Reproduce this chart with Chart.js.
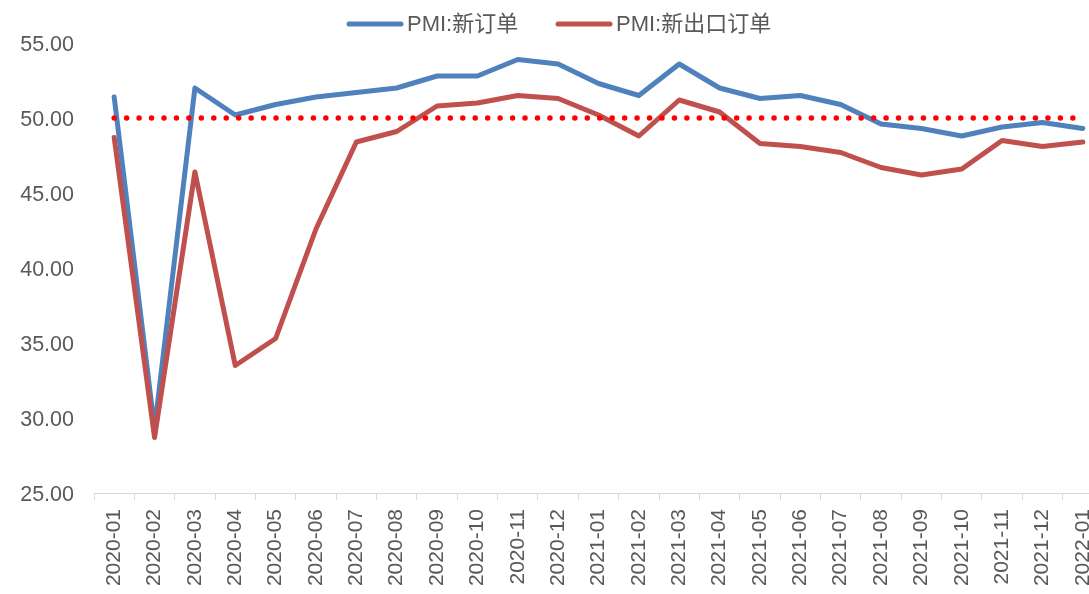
<!DOCTYPE html>
<html>
<head>
<meta charset="utf-8">
<script src="https://cdn.jsdelivr.net/npm/chart.js@4.4.1/dist/chart.umd.min.js"></script>
<style>
  html, body { margin: 0; padding: 0; background: #fff; overflow: hidden; }
  #caja { width: 1103px; height: 594px; }
</style>
</head>
<body>
<div id="caja"><canvas id="miGrafica" width="1103" height="594"></canvas></div>
<script>
// meses del eje X
const meses = ["2020-01", "2020-02", "2020-03", "2020-04", "2020-05", "2020-06", "2020-07",
    "2020-08", "2020-09", "2020-10", "2020-11", "2020-12", "2021-01", "2021-02", "2021-03",
    "2021-04", "2021-05", "2021-06", "2021-07", "2021-08", "2021-09", "2021-10", "2021-11",
    "2021-12", "2022-01"];

// PMI:新订单
const nuevosPedidos = [51.4, 29.3, 52.0, 50.2, 50.9, 51.4, 51.7, 52.0, 52.8, 52.8, 53.9, 53.6,
    52.3, 51.5, 53.6, 52.0, 51.3, 51.5, 50.9, 49.6, 49.3, 48.8, 49.4, 49.7, 49.3];

// PMI:新出口订单
const pedidosExport = [48.7, 28.7, 46.4, 33.5, 35.3, 42.6, 48.4, 49.1, 50.8, 51.0, 51.5, 51.3,
    50.2, 48.8, 51.2, 50.4, 48.3, 48.1, 47.7, 46.7, 46.2, 46.6, 48.5, 48.1, 48.4];

// linea de referencia (50)
const lineaBase = [50, 50, 50, 50, 50, 50, 50, 50, 50, 50, 50, 50, 50, 50, 50, 50, 50, 50,
    50, 50, 50, 50, 50, 50, 50];

// ticks del eje Y
const ejeY = { min: 25, max: 55, paso: 5 };

const fuente = '"Liberation Sans", "Noto Sans CJK SC", sans-serif';
const gris = "#595959";

// leyenda dibujada a mano para controlar el espaciado
const leyenda = {
    id: "leyenda",
    afterDraw(chart) {
        const ctx = chart.ctx;
        const items = [
            { ds: chart.data.datasets[0], x: 347 },
            { ds: chart.data.datasets[1], x: 556 }
        ];
        ctx.save();
        ctx.font = "22px " + fuente;
        ctx.textBaseline = "middle";
        items.forEach(it => {
            ctx.strokeStyle = it.ds.borderColor;
            ctx.lineWidth = 5;
            ctx.lineCap = "round";
            ctx.beginPath();
            ctx.moveTo(it.x + 2, 24);
            ctx.lineTo(it.x + 54, 24);
            ctx.stroke();
            ctx.fillStyle = gris;
            ctx.fillText(it.ds.label, it.x + 60, 25);
        });
        ctx.restore();
    }
};

const ctx = document.getElementById("miGrafica").getContext("2d");
new Chart(ctx, {
    type: "line",
    data: {
        labels: meses,
        datasets: [
            {
                label: "PMI:新订单",
                data: nuevosPedidos,
                borderColor: "#4F81BD",
                borderWidth: 5,
                borderCapStyle: "round",
                borderJoinStyle: "round",
                pointRadius: 0,
                tension: 0,
                order: 2
            },
            {
                label: "PMI:新出口订单",
                data: pedidosExport,
                borderColor: "#C0504D",
                borderWidth: 5,
                borderCapStyle: "round",
                borderJoinStyle: "round",
                pointRadius: 0,
                tension: 0,
                order: 1
            },
            {
                label: "50",
                data: lineaBase,
                borderColor: "#FF0000",
                borderWidth: 5.5,
                borderCapStyle: "round",
                borderDash: [0, 12.45],
                pointRadius: 0,
                tension: 0,
                order: 0
            }
        ]
    },
    options: {
        responsive: false,
        animation: false,
        layout: { padding: { top: 43, left: 0, right: 0, bottom: 0 } },
        plugins: {
            legend: { display: false },
            tooltip: { enabled: false }
        },
        scales: {
            x: {
                offset: true,
                grid: {
                    display: true,
                    drawOnChartArea: false,
                    drawTicks: true,
                    tickLength: 7,
                    offset: true,
                    color: "#D9D9D9"
                },
                border: { display: true, color: "#D9D9D9", width: 1 },
                ticks: {
                    color: gris,
                    font: { family: fuente, size: 21 },
                    minRotation: 90,
                    maxRotation: 90,
                    autoSkip: false,
                    padding: 9
                },
                afterFit(scale) {
                    scale.height = 101;
                    scale.paddingLeft = 0;
                    scale.paddingRight = 0;
                }
            },
            y: {
                min: ejeY.min,
                max: ejeY.max,
                grid: { display: false, drawTicks: false },
                border: { display: false },
                ticks: {
                    stepSize: ejeY.paso,
                    color: gris,
                    font: { family: fuente, size: 21.5 },
                    padding: 20,
                    labelOffset: 2,
                    callback: v => v.toFixed(2)
                },
                afterFit(scale) { scale.width = 94; }
            }
        }
    },
    plugins: [leyenda]
});
</script>
</body>
</html>
